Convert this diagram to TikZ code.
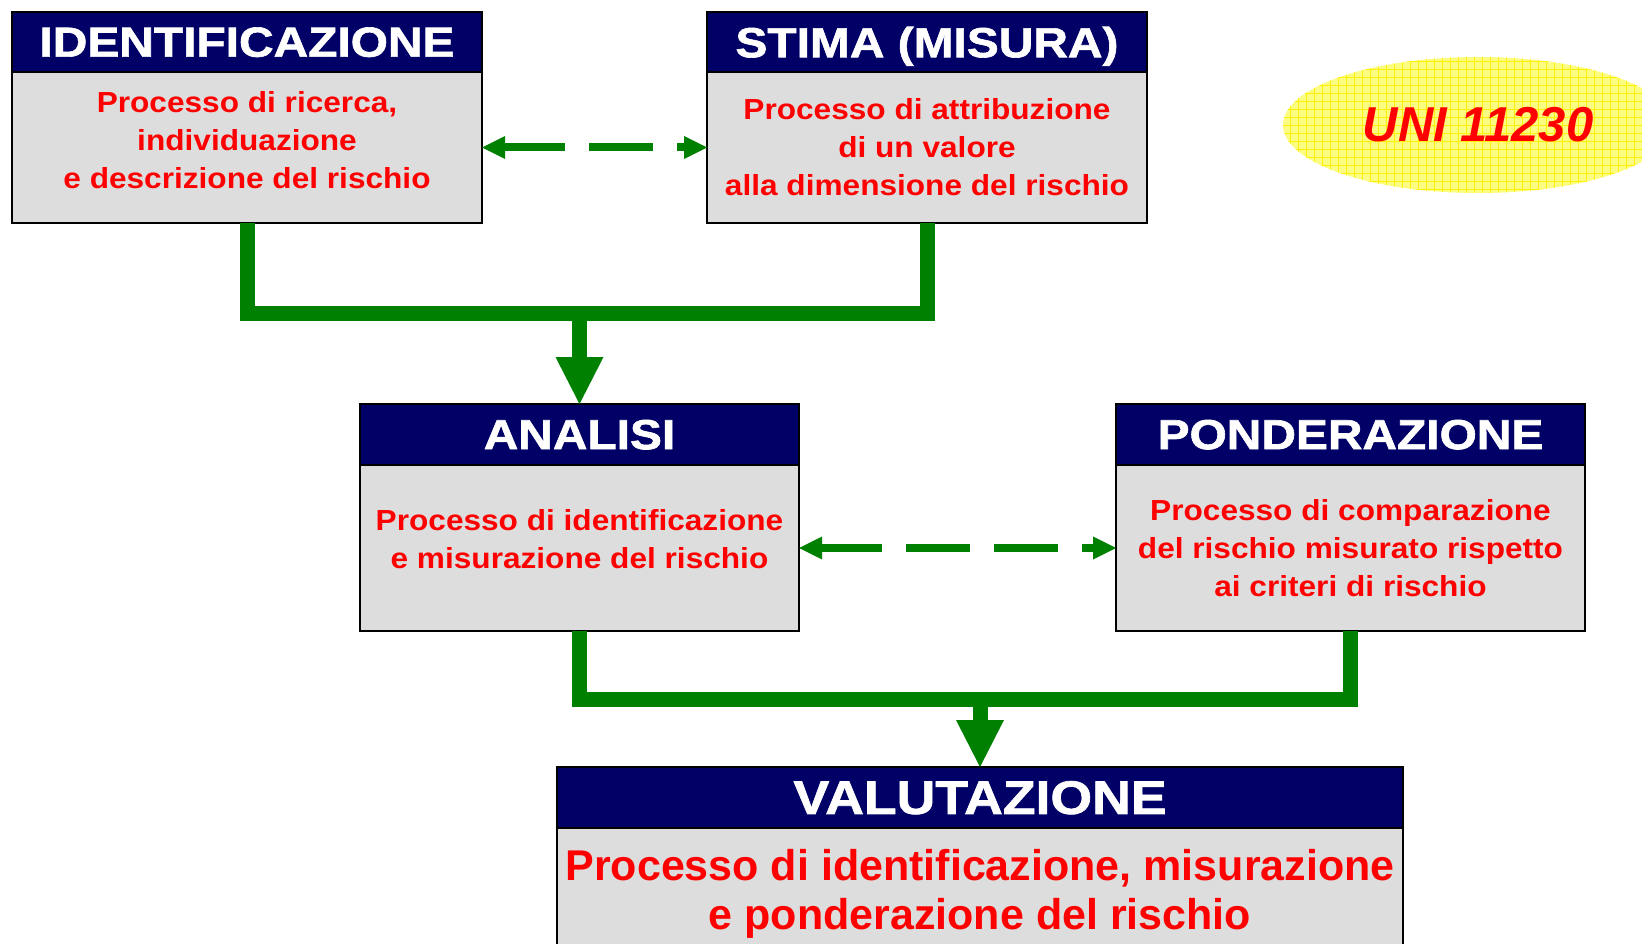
\documentclass[tikz,border=0pt]{standalone}
\usepackage{fontspec}
\setmainfont{Liberation Sans}
\newfontfamily\headface[FakeStretch=1.14,FakeBold=1.5]{Liberation Sans}
\newfontfamily\bodyface[FakeStretch=1.09]{Liberation Sans}
\newfontfamily\mainface[FakeStretch=1.0]{Liberation Sans}
\usetikzlibrary{positioning,arrows.meta,shapes.geometric}
\definecolor{headblue}{RGB}{0,0,102}
\definecolor{boxgray}{RGB}{221,221,221}
\definecolor{flowgreen}{RGB}{0,128,0}
\definecolor{uniyellow}{RGB}{252,252,130}

\begin{document}
\begin{tikzpicture}[x=1pt,y=-1pt,
	head/.style={draw=black,line width=2pt,fill=headblue,text=white,inner sep=0pt,outer sep=0pt,minimum height=60pt,text depth=0pt,font=\headface\bfseries\fontsize{42}{50}\selectfont},
	body/.style={draw=black,line width=2pt,fill=boxgray,text=red,align=center,inner sep=0pt,outer sep=0pt,font=\bodyface\bfseries\fontsize{29}{38}\selectfont},
	flow/.style={draw=flowgreen,line width=15pt},
	flowtip/.style={-{Triangle[width=48pt,length=47pt,line width=0pt]}},
	dashlink/.style={draw=flowgreen,line width=8pt,dash pattern=on 64pt off 24pt,dash phase=4pt,
		{Triangle[width=23pt,length=23pt,line width=0pt]}-{Triangle[width=23pt,length=23pt,line width=0pt]}}]
	\useasboundingbox (0,0) rectangle (1642,944);
	\clip (0,0) rectangle (1642,944);
	% top row
	\node[head,anchor=north west,minimum width=470pt] (identH) at (12,12) {IDENTIFICAZIONE};
	\node[body,below=0pt of identH,minimum width=470pt,minimum height=151pt,text depth=15.8pt] (identB)
		{Processo di ricerca,\\individuazione\\e descrizione del rischio};
	\node[head,anchor=north west,minimum width=440pt] (stimaH) at (707,12) {STIMA (MISURA)};
	\node[body,below=0pt of stimaH,minimum width=440pt,minimum height=151pt] (stimaB)
		{Processo di attribuzione\\di un valore\\alla dimensione del rischio};
	\node[ellipse,minimum width=390pt,minimum height=136pt,inner sep=0pt,fill=uniyellow,text=red,
		font=\bfseries\itshape\fontsize{49}{56}\selectfont,
		path picture={\draw[yellow,line width=0.8pt,step=8pt] (path picture bounding box.south west) grid (path picture bounding box.north east);}]
		(uni) at (1478,125) {UNI 11230};
	% middle row
	\node[head,anchor=north west,minimum width=439pt,minimum height=61pt] (analisiH) at (360,404) {ANALISI};
	\node[body,below=0pt of analisiH,minimum width=439pt,minimum height=166pt,text depth=18.8pt] (analisiB)
		{Processo di identificazione\\e misurazione del rischio};
	\node[head,anchor=north west,minimum width=469pt,minimum height=61pt] (ponderH) at (1116,404) {PONDERAZIONE};
	\node[body,below=0pt of ponderH,minimum width=469pt,minimum height=166pt] (ponderB)
		{Processo di comparazione\\del rischio misurato rispetto\\ai criteri di rischio};
	% bottom
	\node[head,anchor=north west,minimum width=846pt,minimum height=61pt,font=\headface\bfseries\fontsize{47}{54}\selectfont] (valutH) at (557,767) {VALUTAZIONE};
	\node[body,below=0pt of valutH,minimum width=846pt,minimum height=131pt,font=\mainface\bfseries\fontsize{43}{49}\selectfont] (valutB)
		{Processo di identificazione, misurazione\\e ponderazione del rischio};
	% connectors
	\coordinate (topJoin) at (analisiH.north |- 0,313);
	\coordinate (lowJoin) at (valutH.north |- 0,699);
	\draw[flow] (identB.south) |- (topJoin) -| (stimaB.south);
	\draw[flow,flowtip] (topJoin) -- (analisiH.north);
	\draw[flow] (analisiB.south) |- (lowJoin) -| (ponderB.south);
	\draw[flow,flowtip] (lowJoin) -- (valutH.north);
	\draw[dashlink] (identB.east) -- (stimaB.west);
	\draw[dashlink] (analisiB.east) -- (ponderB.west);
\end{tikzpicture}
\end{document}
